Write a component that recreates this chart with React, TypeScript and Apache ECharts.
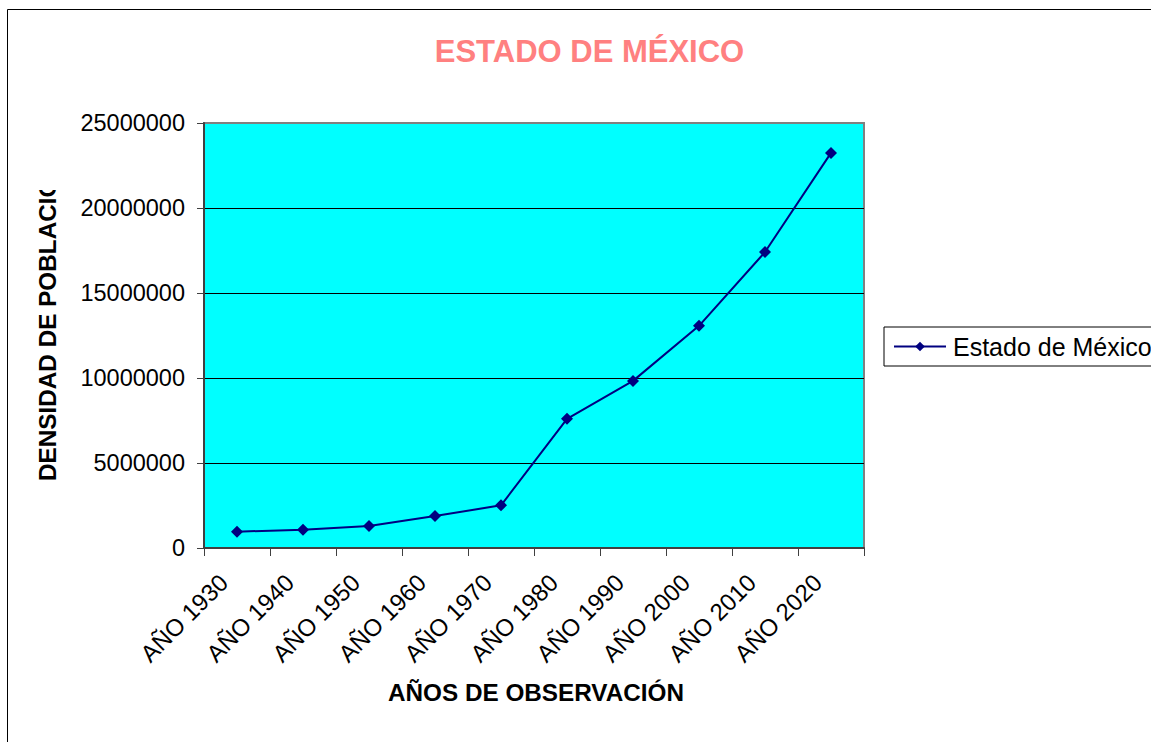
import React, { useEffect, useRef } from "react";
import * as echarts from "echarts";

const categories = [
  "AÑO 1930", "AÑO 1940", "AÑO 1950", "AÑO 1960", "AÑO 1970",
  "AÑO 1980", "AÑO 1990", "AÑO 2000", "AÑO 2010", "AÑO 2020",
];
const poblacion = [
  960000, 1080000, 1300000, 1880000, 2510000,
  7600000, 9830000, 13070000, 17410000, 23240000,
];
const seriesName = "Estado de México";
const titleText = "ESTADO DE MÉXICO";
const xAxisTitle = "AÑOS DE OBSERVACIÓN";
const yAxisTitle = "DENSIDAD DE POBLACIÓN";
const yMin = 0;
const yMax = 25000000;
const yInterval = 5000000;

const FONT = "'Liberation Sans', Arial, sans-serif";

export default function App() {
  const ref = useRef<HTMLDivElement>(null);

  useEffect(() => {
    if (!ref.current) return;
    const chart = echarts.init(ref.current, null, { renderer: "svg" });
    chart.setOption({
      animation: false,
      backgroundColor: "#ffffff",
      textStyle: { fontFamily: FONT },
      grid: {
        left: 204,
        top: 123,
        right: 287,
        bottom: 194,
        show: true,
        backgroundColor: "#00FFFF",
        borderColor: "#808080",
        borderWidth: 2,
      },
      legend: {
        show: true,
        left: 884,
        top: 327,
        orient: "horizontal",
        borderColor: "#000000",
        borderWidth: 1,
        padding: [7, 60, 7, 9],
        itemWidth: 52,
        itemHeight: 12,
        textStyle: { fontSize: 25, color: "#000", fontFamily: FONT, padding: [0, 0, 0, 2] },
        data: [seriesName],
      },
      xAxis: {
        type: "category",
        data: categories,
        boundaryGap: true,
        axisLine: { show: true, lineStyle: { color: "#404040", width: 2 } },
        axisTick: { show: true, length: 8, lineStyle: { color: "#404040", width: 1 } },
        axisLabel: {
          rotate: 45,
          margin: 17,
          padding: [0, 19, 0, 0],
          fontSize: 24,
          color: "#000",
          fontFamily: FONT,
          interval: 0,
        },
        splitLine: { show: false },
      },
      yAxis: {
        type: "value",
        min: yMin,
        max: yMax,
        interval: yInterval,
        axisLine: { show: true, lineStyle: { color: "#404040", width: 2 } },
        axisTick: { show: true, length: 7, lineStyle: { color: "#404040", width: 1 } },
        axisLabel: {
          margin: 19,
          fontSize: 23.5,
          color: "#000",
          fontFamily: FONT,
          formatter: (v: number) => String(v),
        },
        splitLine: {
          show: true,
          showMaxLine: false,
          showMinLine: false,
          lineStyle: { color: "#000000", width: 1 },
        },
      },
      series: [
        {
          name: seriesName,
          type: "line",
          data: poblacion,
          symbol: "diamond",
          symbolSize: 12,
          lineStyle: { color: "#000080", width: 2 },
          itemStyle: { color: "#000080" },
        },
      ],
      graphic: [
        {
          type: "rect",
          shape: { x: 7.5, y: 9.5, width: 1300, height: 900 },
          style: { fill: "none", stroke: "#000", lineWidth: 1 },
          silent: true,
          z: 100,
        },
        {
          type: "text",
          x: 589.5,
          y: 51.5,
          style: {
            text: titleText,
            fill: "#FF8080",
            font: `bold 31px ${FONT}`,
            textAlign: "center",
            textVerticalAlign: "middle",
          },
        },
        {
          type: "text",
          x: 536,
          y: 692.5,
          style: {
            text: xAxisTitle,
            fill: "#000",
            font: `bold 24.3px ${FONT}`,
            textAlign: "center",
            textVerticalAlign: "middle",
          },
        },
        {
          type: "text",
          x: 47,
          y: 481,
          rotation: Math.PI / 2,
          style: {
            text: yAxisTitle,
            fill: "#000",
            font: `bold 24.3px ${FONT}`,
            textAlign: "left",
            textVerticalAlign: "middle",
          },
          z: 10,
        },
        {
          type: "rect",
          shape: { x: 25, y: 130, width: 45, height: 60 },
          style: { fill: "#ffffff" },
          z: 20,
        },
      ],
    });
    return () => chart.dispose();
  }, []);

  return (
    <div
      ref={ref}
      style={{ position: "fixed", left: 0, top: 0, width: 1151, height: 742, background: "#fff" }}
    />
  );
}
